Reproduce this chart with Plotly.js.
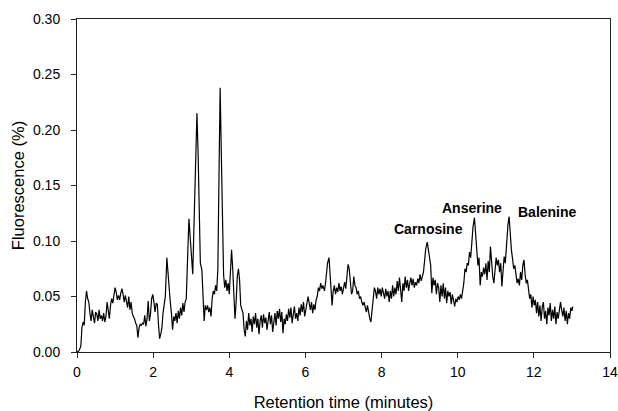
<!DOCTYPE html>
<html>
<head>
<meta charset="utf-8">
<script src="https://cdn.plot.ly/plotly-3.0.1.min.js"></script>
<style>html,body{margin:0;padding:0;background:#fff;}#chart{width:618px;height:411px;}</style>
</head>
<body>
<div id="chart"></div>
<script>
const retentionTime = [
0.00,0.05,0.10,0.13,0.16,0.19,0.22,0.25,0.28,0.31,0.34,0.37,0.40,0.43,0.46,0.49,0.52,0.55,0.58,0.61,0.64,0.67,0.70,0.73,0.76,0.79,0.82,0.85,0.88,0.91,0.94,0.97,
1.00,1.03,1.06,1.09,1.12,1.15,1.18,1.21,1.24,1.27,1.30,1.33,1.36,1.39,1.42,1.45,1.48,1.51,1.54,1.57,1.60,1.63,1.66,1.69,1.72,1.75,1.78,1.81,1.84,1.87,1.90,1.93,1.96,1.99,
2.02,2.05,2.08,2.11,2.14,2.17,2.20,2.23,2.26,2.29,2.32,2.36,2.39,2.42,2.45,2.48,2.51,2.54,2.57,2.60,2.63,2.66,2.69,2.72,2.75,2.78,2.81,2.84,2.87,2.91,2.94,2.97,
3.00,3.04,3.07,3.11,3.15,3.18,3.21,3.24,3.28,3.31,3.34,3.37,3.40,3.43,3.46,3.49,3.52,3.55,3.58,3.61,3.64,3.67,3.70,3.73,3.76,3.79,3.82,3.85,3.88,3.91,3.94,3.97,
4.00,4.03,4.06,4.09,4.12,4.15,4.18,4.21,4.24,4.27,4.30,4.33,4.36,4.39,4.42,4.45,4.48,4.51,4.54,4.57,4.60,4.63,4.66,4.69,4.72,4.75,4.78,4.81,4.84,4.87,4.90,4.93,4.96,4.99,
5.02,5.05,5.08,5.11,5.14,5.17,5.20,5.23,5.26,5.29,5.32,5.35,5.38,5.41,5.44,5.47,5.50,5.53,5.56,5.59,5.62,5.65,5.68,5.71,5.74,5.77,5.80,5.83,5.86,5.89,5.92,5.95,5.98,
6.01,6.04,6.07,6.10,6.13,6.16,6.19,6.22,6.25,6.28,6.31,6.34,6.37,6.40,6.43,6.46,6.50,6.54,6.58,6.62,6.65,6.68,6.70,6.73,6.76,6.79,6.82,6.85,6.88,6.91,6.94,6.97,
7.00,7.03,7.06,7.09,7.12,7.15,7.18,7.21,7.24,7.27,7.30,7.33,7.36,7.39,7.42,7.45,7.48,7.51,7.54,7.57,7.60,7.63,7.66,7.69,7.72,7.75,7.78,7.81,7.84,7.87,7.90,7.93,7.96,7.99,
8.02,8.05,8.08,8.11,8.14,8.17,8.20,8.23,8.26,8.29,8.32,8.35,8.38,8.41,8.44,8.47,8.50,8.53,8.56,8.59,8.62,8.65,8.68,8.71,8.74,8.77,8.80,8.83,8.86,8.89,8.92,8.95,8.98,
9.01,9.04,9.07,9.10,9.13,9.16,9.20,9.23,9.26,9.29,9.32,9.35,9.38,9.41,9.44,9.47,9.50,9.53,9.56,9.59,9.62,9.65,9.68,9.71,9.74,9.77,9.80,9.83,9.86,9.89,9.92,9.95,9.98,
10.01,10.04,10.07,10.10,10.13,10.16,10.19,10.22,10.25,10.28,10.31,10.34,10.37,10.40,10.44,10.47,10.50,10.53,10.56,10.59,10.62,10.65,10.68,10.71,10.74,10.77,10.80,10.83,10.86,10.89,10.92,10.95,10.98,
11.01,11.04,11.07,11.10,11.13,11.16,11.19,11.22,11.25,11.28,11.32,11.35,11.38,11.41,11.44,11.47,11.50,11.53,11.56,11.59,11.62,11.65,11.68,11.71,11.74,11.77,11.80,11.83,11.86,11.89,11.92,11.95,11.98,
12.01,12.04,12.07,12.10,12.13,12.16,12.19,12.22,12.25,12.28,12.31,12.34,12.37,12.40,12.43,12.46,12.49,12.52,12.55,12.58,12.61,12.64,12.67,12.70,12.73,12.76,12.79,12.82,12.85,12.88,12.91,12.94,12.97,
13.00,13.02
];
const fluorescence = [
0.000,0.001,0.005,0.022,0.027,0.024,0.045,0.055,0.048,0.045,0.035,0.028,0.038,0.032,0.026,0.036,0.034,0.028,0.038,0.030,0.033,0.028,0.035,0.027,0.032,0.045,0.034,0.030,0.042,0.048,0.044,0.052,
0.058,0.054,0.047,0.051,0.047,0.053,0.057,0.052,0.045,0.051,0.046,0.040,0.050,0.038,0.045,0.035,0.032,0.030,0.026,0.024,0.013,0.022,0.025,0.024,0.026,0.025,0.033,0.023,0.030,0.046,0.028,0.034,0.048,0.052,
0.045,0.036,0.044,0.043,0.025,0.012,0.016,0.022,0.035,0.042,0.050,0.085,0.070,0.052,0.045,0.035,0.020,0.032,0.028,0.035,0.026,0.037,0.030,0.040,0.033,0.044,0.036,0.045,0.048,0.090,0.120,0.105,
0.085,0.070,0.110,0.170,0.215,0.180,0.110,0.080,0.074,0.050,0.028,0.042,0.038,0.042,0.036,0.040,0.032,0.048,0.055,0.052,0.060,0.055,0.075,0.160,0.238,0.180,0.110,0.070,0.058,0.065,0.055,0.062,
0.052,0.075,0.092,0.075,0.050,0.030,0.045,0.068,0.075,0.065,0.042,0.038,0.035,0.020,0.014,0.028,0.020,0.035,0.024,0.030,0.018,0.032,0.025,0.035,0.022,0.030,0.016,0.028,0.033,0.022,0.034,0.026,0.031,0.020,
0.029,0.036,0.025,0.033,0.018,0.030,0.035,0.024,0.037,0.030,0.039,0.027,0.036,0.017,0.030,0.025,0.034,0.028,0.039,0.031,0.040,0.026,0.037,0.041,0.030,0.035,0.028,0.040,0.033,0.043,0.036,0.045,0.032,
0.040,0.044,0.050,0.042,0.038,0.045,0.035,0.043,0.038,0.047,0.050,0.058,0.055,0.062,0.057,0.060,0.055,0.066,0.080,0.085,0.070,0.048,0.042,0.055,0.060,0.052,0.058,0.054,0.062,0.055,0.059,0.052,
0.060,0.063,0.057,0.072,0.079,0.075,0.060,0.052,0.055,0.068,0.060,0.058,0.052,0.055,0.048,0.050,0.045,0.042,0.045,0.040,0.036,0.042,0.035,0.030,0.027,0.040,0.050,0.058,0.055,0.048,0.058,0.052,0.057,0.050,
0.058,0.053,0.048,0.057,0.050,0.055,0.045,0.055,0.048,0.060,0.050,0.058,0.052,0.064,0.055,0.067,0.058,0.045,0.062,0.055,0.068,0.058,0.065,0.055,0.062,0.067,0.060,0.066,0.058,0.063,0.060,0.066,0.062,
0.070,0.064,0.067,0.072,0.082,0.093,0.099,0.092,0.082,0.078,0.053,0.067,0.060,0.065,0.052,0.062,0.058,0.045,0.060,0.050,0.062,0.048,0.058,0.044,0.055,0.050,0.054,0.043,0.052,0.047,0.041,0.048,0.045,
0.050,0.047,0.052,0.048,0.055,0.062,0.075,0.072,0.080,0.078,0.090,0.085,0.098,0.112,0.121,0.108,0.088,0.078,0.085,0.060,0.072,0.068,0.076,0.070,0.080,0.065,0.082,0.072,0.095,0.080,0.068,0.062,0.075,
0.085,0.078,0.083,0.072,0.080,0.059,0.070,0.086,0.080,0.098,0.115,0.122,0.105,0.092,0.084,0.075,0.078,0.068,0.062,0.066,0.060,0.072,0.065,0.078,0.083,0.070,0.062,0.065,0.053,0.048,0.052,0.040,0.050,
0.042,0.047,0.035,0.045,0.032,0.042,0.028,0.040,0.045,0.030,0.037,0.025,0.040,0.033,0.044,0.028,0.038,0.030,0.041,0.025,0.036,0.030,0.040,0.045,0.038,0.032,0.040,0.028,0.037,0.025,0.035,0.030,0.040,
0.037,0.041
];
const peakNames = ["Carnosine","Anserine","Balenine"];
const peakLabelX = [9.22, 10.38, 12.35];
const peakLabelY = [0.111, 0.130, 0.1257];
const xTicks = [0,2,4,6,8,10,12,14];
const yTicks = [0.00,0.05,0.10,0.15,0.20,0.25,0.30];

const font = "Liberation Sans, Arial, sans-serif";
const trace = {
  x: retentionTime, y: fluorescence, type: 'scatter', mode: 'lines',
  line: {color: '#000', width: 1.2}, hoverinfo: 'skip'
};
const annotations = peakNames.map((n, i) => ({
  x: peakLabelX[i], y: peakLabelY[i], xref: 'x', yref: 'y', text: '<b>' + n + '</b>',
  showarrow: false, font: {family: font, size: 14, color: '#000'}
}));
const layout = {
  width: 618, height: 411,
  margin: {l: 77, r: 8, t: 19, b: 59, pad: 0},
  paper_bgcolor: '#fff', plot_bgcolor: '#fff',
  showlegend: false,
  font: {family: font, color: '#000'},
  xaxis: {
    range: [0, 14], tickvals: xTicks, ticktext: xTicks.map(String),
    showgrid: false, zeroline: false, showline: true, mirror: true,
    linecolor: '#222', linewidth: 1, ticks: 'outside', ticklen: 5, tickcolor: '#222',
    tickfont: {family: font, size: 14, color: '#000'}, ticklabelstandoff: 2,
    title: {text: 'Retention time (minutes)', font: {family: font, size: 16.5, color: '#000'}, standoff: 17}
  },
  yaxis: {
    range: [0, 0.30], tickvals: yTicks, ticktext: yTicks.map(v => v.toFixed(2)),
    showgrid: false, zeroline: false, showline: true, mirror: true,
    linecolor: '#222', linewidth: 1, ticks: 'outside', ticklen: 5, tickcolor: '#222',
    tickfont: {family: font, size: 14, color: '#000'}, ticklabelstandoff: 8,
    title: {text: 'Fluorescence (%)', font: {family: font, size: 16.5, color: '#000'}, standoff: 4}
  },
  annotations: annotations
};
Plotly.newPlot('chart', [trace], layout, {displayModeBar: false, staticPlot: true});
</script>
</body>
</html>
